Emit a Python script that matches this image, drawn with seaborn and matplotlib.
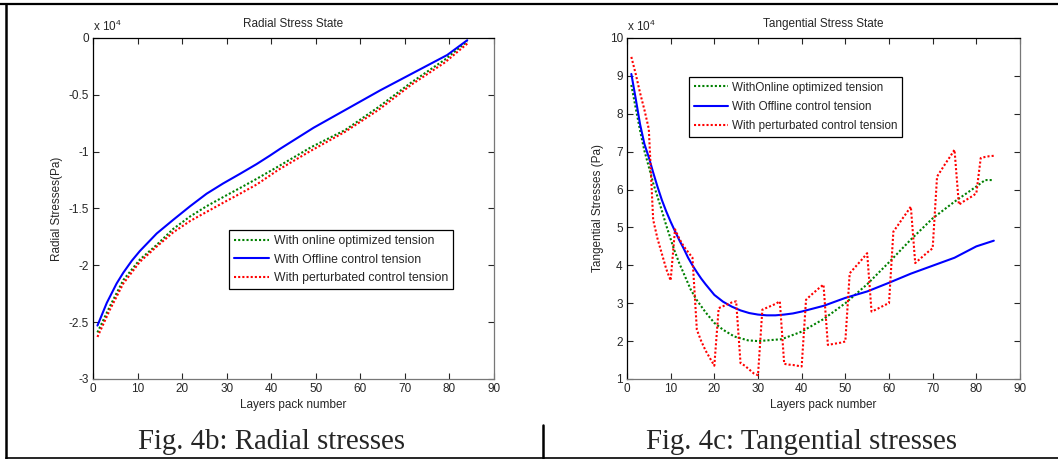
import numpy as np
import pandas as pd
import seaborn as sns
import matplotlib.pyplot as plt
from matplotlib.lines import Line2D

# radial stresses (x 10^4 Pa)
rad_on_x = [1, 3.8, 6.8, 10.5, 14.3, 18, 21.8, 25.5, 29.2, 33, 36.7, 41.6, 49,
            56.6, 64, 71.5, 79, 84]
rad_on_y = [-2.59, -2.36, -2.13, -1.95, -1.82, -1.68, -1.57, -1.48, -1.40, -1.32,
            -1.24, -1.13, -0.96, -0.81, -0.61, -0.39, -0.19, -0.03]
rad_off_x = [1, 3.1, 5.3, 6.8, 8.7, 10.5, 14.3, 18, 21.8, 25.5, 29.2, 33, 36.7,
             39.7, 42, 49.5, 57, 64.5, 72, 79.5, 84]
rad_off_y = [-2.53, -2.33, -2.16, -2.065, -1.96, -1.875, -1.72, -1.60, -1.48,
             -1.37, -1.28, -1.195, -1.11, -1.035, -0.975, -0.79, -0.625, -0.46,
             -0.305, -0.15, -0.02]
rad_pert_x = [1, 3.8, 6.8, 10.5, 14.3, 18, 21.8, 25.5, 29.2, 33, 36.7, 41.6, 49,
              56.6, 64, 71.5, 79, 84]
rad_pert_y = [-2.63, -2.39, -2.16, -1.97, -1.835, -1.71, -1.61, -1.53, -1.45,
              -1.37, -1.29, -1.16, -0.99, -0.825, -0.635, -0.41, -0.215, -0.05]

# tangential stresses (x 10^4 Pa)
tan_on_x = [1, 2, 3.1, 4, 5.4, 6, 7.7, 9, 10.8, 12, 14.6, 16, 18, 20, 22, 24.6,
            27.7, 30, 35.4, 40, 45, 50, 55, 60, 65, 70, 75, 80, 82, 84]
tan_on_y = [8.76, 8.15, 7.5, 7.02, 6.43, 6.17, 5.55, 5.05, 4.41, 4.05, 3.36, 3.08,
            2.76, 2.48, 2.3, 2.12, 2.02, 2.0, 2.05, 2.25, 2.58, 3.0, 3.5, 4.08,
            4.68, 5.24, 5.68, 6.08, 6.25, 6.25]
tan_off_x = [1, 2, 3, 4, 5, 6, 7, 8, 9, 10, 11, 12, 13, 14, 15, 16, 17, 18, 19,
             20, 22, 24, 26, 28, 30, 32, 34, 36, 38, 40, 45, 50, 55, 60, 65, 70,
             75, 80, 84]
tan_off_y = [9.05, 8.4, 7.72, 7.2, 6.85, 6.45, 6.07, 5.72, 5.42, 5.15, 4.9, 4.66,
             4.44, 4.2, 4.0, 3.82, 3.65, 3.5, 3.36, 3.22, 3.04, 2.91, 2.81, 2.74,
             2.7, 2.68, 2.68, 2.7, 2.73, 2.78, 2.93, 3.14, 3.31, 3.54, 3.78, 3.99,
             4.2, 4.5, 4.65]
tan_pert_x = list(range(1, 85))
tan_pert_y = [9.5, 9.05, 8.55, 8.1, 7.6,
              5.2, 4.7, 4.3, 3.9, 3.6,
              4.95, 4.7, 4.5, 4.35, 4.2,
              2.3, 2.0, 1.75, 1.55, 1.35,
              2.87, 2.92, 2.97, 3.02, 3.05,
              1.42, 1.35, 1.25, 1.15, 1.1,
              2.83, 2.88, 2.93, 2.98, 3.05,
              1.40, 1.38, 1.37, 1.35, 1.33,
              3.09, 3.2, 3.3, 3.4, 3.49,
              1.9, 1.92, 1.94, 1.96, 1.99,
              3.79, 3.92, 4.05, 4.18, 4.32,
              2.78, 2.83, 2.89, 2.95, 3.0,
              4.89, 5.05, 5.22, 5.38, 5.55,
              4.06, 4.16, 4.26, 4.36, 4.45,
              6.34, 6.52, 6.7, 6.87, 7.05,
              5.6, 5.68, 5.75, 5.82, 5.9,
              6.83, 6.86, 6.88, 6.89]

sns.set_style("ticks")
plt.rcParams['font.family'] = ['Liberation Sans', 'DejaVu Sans']
plt.rcParams['axes.unicode_minus'] = False
plt.rcParams['mathtext.default'] = 'regular'

GREEN = '#008000'
BLUE = '#0000ff'
RED = '#ff0000'
DOT = (0, (1, 1))

fig = plt.figure(figsize=(10.58, 4.59), dpi=100)
ax1 = fig.add_axes([0.0879, 0.1743, 0.379, 0.743])
ax2 = fig.add_axes([0.5926, 0.1743, 0.3715, 0.743])


def draw(ax, series, labels):
    styles = [(GREEN, DOT), (BLUE, '-'), (RED, DOT)]
    for (x, y), lab, (c, ls) in zip(series, labels, styles):
        sns.lineplot(x=x, y=y, ax=ax, color=c, linestyle=ls, linewidth=1.5,
                     label=lab, sort=False)


draw(ax1, [(rad_on_x, rad_on_y), (rad_off_x, rad_off_y), (rad_pert_x, rad_pert_y)],
     ['With online optimized tension', 'With Offline control tension',
      'With perturbated control tension'])
draw(ax2, [(tan_on_x, tan_on_y), (tan_off_x, tan_off_y), (tan_pert_x, tan_pert_y)],
     ['WithOnline optimized tension', 'With Offline control tension',
      'With perturbated control tension'])

ax1.set_xlim(0, 90)
ax1.set_ylim(-3, 0)
ax1.set_yticks([-3, -2.5, -2, -1.5, -1, -0.5, 0])
ax1.set_yticklabels(['-3', '-2.5', '-2', '-1.5', '-1', '-0.5', '0'])
ax2.set_xlim(0, 90)
ax2.set_ylim(1, 10)
ax2.set_yticks(range(1, 11))

for ax, title, ylab in [(ax1, 'Radial Stress State', 'Radial Stresses(Pa)'),
                        (ax2, 'Tangential Stress State', 'Tangential Stresses (Pa)')]:
    ax.set_xticks(range(0, 91, 10))
    ax.tick_params(direction='in', top=True, right=True, labelsize=8.5,
                   length=4, width=0.8, pad=3)
    ax.set_title(title, fontsize=8.5, pad=8)
    ax.set_xlabel('Layers pack number', fontsize=8.5, labelpad=3)
    ax.set_ylabel(ylab, fontsize=8.5, labelpad=4)
    ax.text(0, 1.012, 'x 10$^{4}$', transform=ax.transAxes, fontsize=8.5,
            ha='left', va='bottom')
    for side in ['top', 'left']:
        ax.spines[side].set_color('black')
    for side in ['bottom', 'right']:
        ax.spines[side].set_color('#777777')
    for sp in ax.spines.values():
        sp.set_linewidth(0.9)

leg_kw = dict(frameon=True, fancybox=False, framealpha=1, edgecolor='black',
              handlelength=2.9, borderaxespad=0, borderpad=0.4,
              handletextpad=0.35)
l1 = ax1.legend(loc='lower left', bbox_to_anchor=(0.339, 0.264), fontsize=8.8,
                labelspacing=0.52, **leg_kw)
l2 = ax2.legend(loc='upper left', bbox_to_anchor=(0.159, 0.886), fontsize=8.4,
                labelspacing=0.62, **leg_kw)
for l in (l1, l2):
    l.get_frame().set_linewidth(0.9)

# captions and frame
fig.text(271 / 1058, 1 - 442 / 459, 'Fig. 4b: Radial stresses', ha='center',
         va='center', fontsize=20.8, family=['Liberation Serif', 'DejaVu Serif'])
fig.text(801 / 1058, 1 - 442 / 459, 'Fig. 4c: Tangential stresses', ha='center',
         va='center', fontsize=20.8, family=['Liberation Serif', 'DejaVu Serif'])
fig.add_artist(Line2D([0, 1], [1 - 3.8 / 459] * 2, color='black', lw=1.6))
fig.add_artist(Line2D([6 / 1058] * 2, [0, 1 - 3.8 / 459], color='black', lw=1.8))
fig.add_artist(Line2D([6 / 1058, 1], [1 - 458 / 459] * 2, color='black', lw=1.2))
fig.add_artist(Line2D([543 / 1058] * 2, [1 - 458 / 459, 1 - 425 / 459],
                      color='black', lw=1.8))

plt.savefig('out.png', dpi=100)
plt.close()
